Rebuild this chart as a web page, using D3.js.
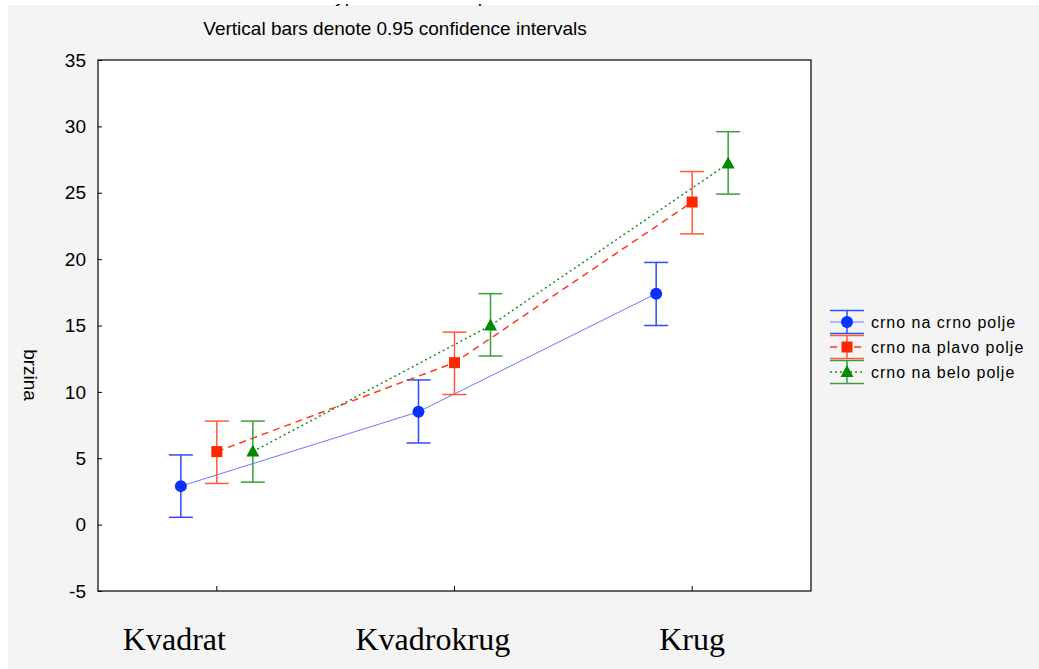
<!DOCTYPE html>
<html>
<head>
<meta charset="utf-8">
<script src="https://cdn.jsdelivr.net/npm/d3@7"></script>
<style>
  html, body { margin: 0; padding: 0; background: #fff; }
  svg { display: block; }
</style>
</head>
<body>
<div id="chart"></div>
<script>
// LS means plot with 0.95 confidence intervals (Statistica style)

var categories = ['Kvadrat', 'Kvadrokrug', 'Krug'];
var seriesNames = ['crno na crno polje', 'crno na plavo polje', 'crno na belo polje'];

var crnoMean  = [2.9, 8.5, 17.4];
var crnoLo    = [0.55, 6.15, 15.0];
var crnoHi    = [5.25, 10.9, 19.75];

var plavoMean = [5.5, 12.2, 24.3];
var plavoLo   = [3.1, 9.8, 21.9];
var plavoHi   = [7.8, 14.5, 26.6];

var beloMean  = [5.5, 15.0, 27.2];
var beloLo    = [3.2, 12.7, 24.9];
var beloHi    = [7.8, 17.4, 29.6];

var yTicks = [-5, 0, 5, 10, 15, 20, 25, 30, 35];

(function() {

  var W = 1039, H = 669;
  var plot = { left: 98, right: 811, top: 60, bottom: 591 };

  var STYLE = [
    { line: '#6a78ff', bar: '#2f4bff', mark: '#0a32ff', dash: null,  lw: 1,   shape: 'circle'   },
    { line: '#ff3a1a', bar: '#ff5a3c', mark: '#ff2600', dash: '7,5', lw: 1.5, shape: 'square'   },
    { line: '#1a8f1a', bar: '#3a9e3a', mark: '#008a00', dash: '2,3', lw: 1.5, shape: 'triangle' }
  ];

  var series = [
    { name: seriesNames[0], mean: crnoMean,  lo: crnoLo,  hi: crnoHi  },
    { name: seriesNames[1], mean: plavoMean, lo: plavoLo, hi: plavoHi },
    { name: seriesNames[2], mean: beloMean,  lo: beloLo,  hi: beloHi  }
  ];

  var svg = d3.select('#chart').append('svg')
    .attr('width', W).attr('height', H);

  // background panel
  svg.append('rect').attr('x', 8).attr('y', 5).attr('width', W - 8).attr('height', H - 5)
    .attr('fill', '#f4f4f4');

  svg.append('rect')
    .attr('x', plot.left).attr('y', plot.top)
    .attr('width', plot.right - plot.left).attr('height', plot.bottom - plot.top)
    .attr('fill', '#fff');

  // ── Scales ────────────────────────────────────────────────────────────────
  var x = d3.scaleBand().domain(categories).range([plot.left, plot.right]).padding(0);
  var off = d3.scalePoint().domain(seriesNames).range([-36, 36]);
  var y = d3.scaleLinear().domain([-5, 35]).range([plot.bottom, plot.top]);

  function cx(i, s) { return x(categories[i]) + x.bandwidth() / 2 + off(s.name); }

  // ── Titles ────────────────────────────────────────────────────────────────
  // upper title line is cropped off in the original; only its descenders show
  svg.append('text')
    .attr('x', 395).attr('y', 2)
    .attr('text-anchor', 'middle')
    .attr('font-family', 'Liberation Sans, Arial, sans-serif').attr('font-size', '19px')
    .attr('fill', '#000')
    .text('Effective hypothesis decomposition');
  svg.append('rect').attr('x', 0).attr('y', 0).attr('width', W).attr('height', 4)
    .attr('fill', '#fff');

  svg.append('text')
    .attr('x', 395).attr('y', 35)
    .attr('text-anchor', 'middle')
    .attr('font-family', 'Liberation Sans, Arial, sans-serif').attr('font-size', '19px')
    .attr('fill', '#000')
    .text('Vertical bars denote 0.95 confidence intervals');

  // ── Axes ──────────────────────────────────────────────────────────────────
  var yAxis = svg.append('g')
    .attr('transform', 'translate(' + plot.left + ',0)')
    .call(d3.axisRight(y).tickValues(yTicks).tickSize(4).tickFormat(''));
  yAxis.select('.domain').remove();
  yAxis.selectAll('line').attr('stroke', '#000');

  svg.append('g').selectAll('text').data(yTicks).enter().append('text')
    .attr('x', 86).attr('y', function(d) { return y(d); }).attr('dy', '0.35em')
    .attr('text-anchor', 'end')
    .attr('font-family', 'Liberation Sans, Arial, sans-serif').attr('font-size', '19px')
    .text(function(d) { return d; });

  var xAxis = svg.append('g')
    .attr('transform', 'translate(0,' + plot.bottom + ')')
    .call(d3.axisTop(x).tickSize(5).tickFormat(''));
  xAxis.select('.domain').remove();
  xAxis.selectAll('line').attr('stroke', '#000');

  // category labels sit left of their tick, as in the original
  var labelShift = [-94, -99, -33];
  svg.append('g').selectAll('text').data(categories).enter().append('text')
    .attr('x', function(d, i) { return x(d) + x.bandwidth() / 2 + labelShift[i]; })
    .attr('y', 650)
    .attr('font-family', 'Liberation Serif, Times New Roman, serif').attr('font-size', '32px')
    .text(function(d) { return d; });

  svg.append('text')
    .attr('transform', 'translate(24,' + 375 + ') rotate(90)')
    .attr('text-anchor', 'middle')
    .attr('font-family', 'Liberation Sans, Arial, sans-serif').attr('font-size', '19px')
    .text('brzina');

  svg.append('rect')
    .attr('x', plot.left).attr('y', plot.top)
    .attr('width', plot.right - plot.left).attr('height', plot.bottom - plot.top)
    .attr('fill', 'none').attr('stroke', '#000').attr('stroke-width', 1.2);

  // ── Series ────────────────────────────────────────────────────────────────
  var lineGen = d3.line();

  series.forEach(function(s, k) {
    var st = STYLE[k];
    var g = svg.append('g');

    var pts = s.mean.map(function(m, i) { return [cx(i, s), y(m)]; });
    g.append('path').attr('d', lineGen(pts))
      .attr('fill', 'none').attr('stroke', st.line).attr('stroke-width', st.lw)
      .attr('stroke-dasharray', st.dash);

    s.mean.forEach(function(m, i) {
      var px = cx(i, s);
      g.append('line').attr('x1', px).attr('x2', px)
        .attr('y1', y(s.lo[i])).attr('y2', y(s.hi[i]))
        .attr('stroke', st.bar).attr('stroke-width', 1.5);
      [s.lo[i], s.hi[i]].forEach(function(v) {
        g.append('line').attr('x1', px - 12).attr('x2', px + 12)
          .attr('y1', y(v)).attr('y2', y(v))
          .attr('stroke', st.bar).attr('stroke-width', 1.5);
      });
      drawMarker(g, st, px, y(m));
    });
  });

  // ── Legend ────────────────────────────────────────────────────────────────
  var legY = d3.scalePoint().domain(seriesNames).range([322, 372]);
  series.forEach(function(s, k) {
    var st = STYLE[k];
    var ly = legY(s.name), lx = 847;
    var g = svg.append('g');
    [ly - 11.5, ly + 11.5].forEach(function(v) {
      g.append('line').attr('x1', lx - 17).attr('x2', lx + 17).attr('y1', v).attr('y2', v)
        .attr('stroke', st.bar).attr('stroke-width', 1.5);
    });
    g.append('line').attr('x1', lx).attr('x2', lx).attr('y1', ly - 11.5).attr('y2', ly + 11.5)
      .attr('stroke', st.bar).attr('stroke-width', 1.5);
    g.append('line').attr('x1', lx - 17).attr('x2', lx + 17).attr('y1', ly).attr('y2', ly)
      .attr('stroke', st.line).attr('stroke-width', st.lw).attr('stroke-dasharray', st.dash);
    drawMarker(g, st, lx, ly);
    g.append('text').attr('x', 871).attr('y', ly).attr('dy', '0.35em')
      .attr('font-family', 'Liberation Sans, Arial, sans-serif').attr('font-size', '16px')
      .attr('letter-spacing', '1px')
      .text(s.name);
  });

  // ── Helpers ───────────────────────────────────────────────────────────────
  function drawMarker(g, st, px, py) {
    if (st.shape === 'circle') {
      g.append('circle').attr('cx', px).attr('cy', py).attr('r', 6).attr('fill', st.mark);
    } else if (st.shape === 'square') {
      g.append('rect').attr('x', px - 5.5).attr('y', py - 5.5).attr('width', 11).attr('height', 11)
        .attr('fill', st.mark);
    } else {
      g.append('path').attr('d', 'M' + px + ' ' + (py - 7) + ' L' + (px + 6.5) + ' ' + (py + 5) +
        ' L' + (px - 6.5) + ' ' + (py + 5) + 'Z').attr('fill', st.mark);
    }
  }

})();
</script>
</body>
</html>
